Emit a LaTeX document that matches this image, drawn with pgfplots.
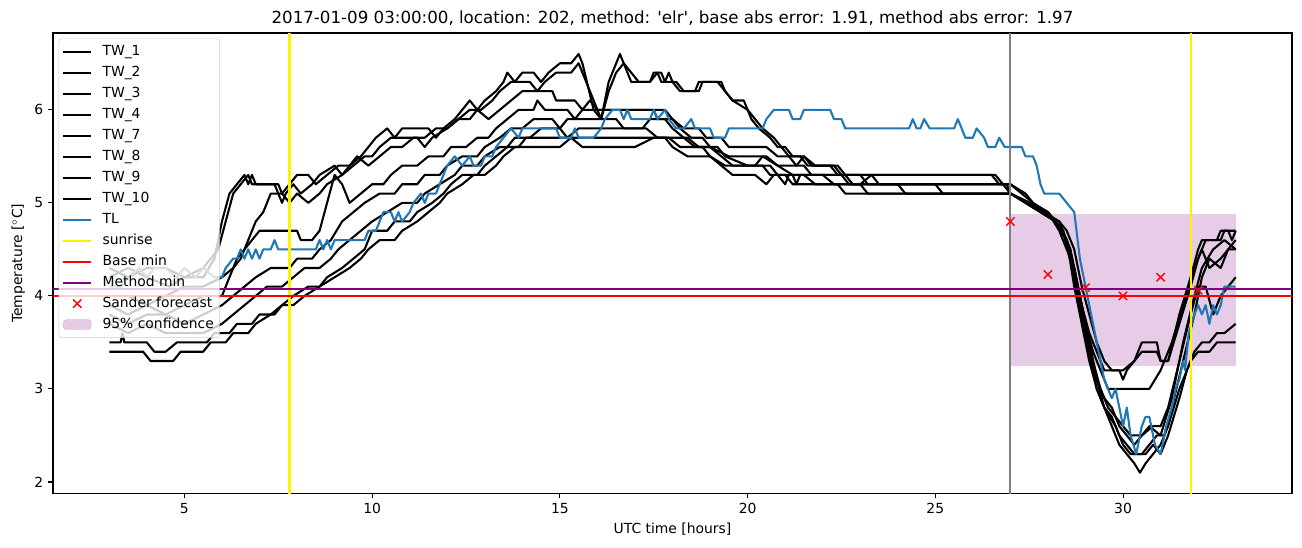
\documentclass[border=0pt]{standalone}
\usepackage{pgfplots}
\pgfplotsset{compat=1.18}
\usepackage{fontspec}
\setmainfont{DejaVu Sans}
\definecolor{mplblue}{RGB}{31,119,180}
\definecolor{mplpurple}{RGB}{128,0,128}
\definecolor{mplgray}{RGB}{128,128,128}
\definecolor{legframe}{RGB}{204,204,204}
\begin{document}
\begin{tikzpicture}
\path[use as bounding box] (-38.16bp,-38.5bp) rectangle (899.3bp,355.4bp);
\begin{axis}[
  at={(0,0)}, anchor=south west,
  scale only axis, width=892.1bp, height=331.6bp,
  xmin=1.5, xmax=34.5, ymin=1.875, ymax=6.825,
  xtick={5,10,15,20,25,30}, ytick={2,3,4,5,6},
  tick pos=left, tick align=outside,
  major tick length=3.5bp,
  every tick/.style={black, line width=0.8bp},
  axis line style={line width=0.8bp},
  /pgf/number format/assume math mode=true,
  ticklabel style={font=\fontsize{10bp}{12bp}\selectfont},
  label style={font=\fontsize{10bp}{12bp}\selectfont},
  xlabel={UTC time [hours]},
  ylabel={Temperature [$^\circ$C]},
  title={2017-01-09 03:00:00, location: 202, method: \textquotesingle elr\textquotesingle, base abs error: 1.91, method abs error: 1.97},
  title style={font=\fontsize{12bp}{14bp}\selectfont, at={(0.5,1)}, anchor=south, yshift=-4bp},
  legend cell align=left,
  legend style={at={(0,1)}, anchor=north west, xshift=4bp, yshift=-4bp,
    draw=legframe, rounded corners=2bp, fill=white, fill opacity=0.8, text opacity=1, draw opacity=1,
    font=\fontsize{10bp}{12bp}\selectfont, row sep=2.3bp, column sep=6bp, inner xsep=2.5bp, inner ysep=3bp,
    nodes={inner sep=1.5bp, text height=7.6bp, text depth=2.2bp}},
  legend image code/.code={\draw[line width=1.5bp,#1] (0bp,0bp) -- (20bp,0bp);},
  tw/.style={black, line width=1.5bp, line join=round, forget plot},
]
% confidence box
\addplot[fill=mplpurple, fill opacity=0.2, draw=none, forget plot] coordinates {(27,3.25) (33,3.25) (33,4.88) (27,4.88)};
% TW_1
\addplot[tw] coordinates {(3.0,4.3) (3.5,4.2) (4.0,4.3) (4.5,4.3) (5.0,4.2) (5.5,4.2) (5.8,4.4) (6.0,4.8) (6.2,5.1) (6.4,5.2) (6.6,5.3) (6.7,5.2) (6.8,5.3) (6.9,5.2) (7.4,5.2) (7.6,5.0) (7.7,5.1) (7.9,5.2) (8.1,5.1) (8.4,5.2) (8.6,5.3) (9.0,5.4) (9.2,5.3) (9.4,5.4) (9.7,5.5) (9.9,5.6) (10.1,5.7) (10.4,5.8) (10.6,5.7) (10.8,5.8) (11.5,5.8) (11.7,5.7) (11.9,5.8) (12.2,5.9) (12.4,6.0) (12.6,6.1) (12.8,6.0) (13.0,6.1) (13.3,6.2) (13.5,6.3) (13.6,6.4) (13.8,6.3) (14.0,6.4) (14.3,6.4) (14.5,6.3) (14.7,6.4) (15.0,6.5) (15.3,6.5) (15.5,6.6) (15.6,6.5) (15.9,6.0) (16.1,5.9) (16.3,6.3) (16.5,6.5) (16.6,6.6) (16.7,6.5) (16.9,6.3) (17.4,6.3) (17.5,6.4) (17.7,6.4) (17.8,6.3) (17.9,6.4) (18.0,6.3) (18.2,6.2) (18.6,6.2) (18.7,6.3) (19.3,6.3) (19.4,6.2) (19.6,6.1) (19.9,6.1) (20.1,5.9) (20.3,5.8) (20.6,5.7) (20.8,5.6) (21.0,5.6) (21.2,5.5) (21.5,5.5) (21.7,5.4) (22.4,5.4) (22.6,5.3) (26.6,5.3) (26.8,5.2) (27.0,5.1) (27.4,5.0) (27.8,4.9) (28.2,4.8) (28.5,4.6) (28.7,4.3) (28.9,3.9) (29.1,3.6) (29.3,3.4) (29.5,3.2) (29.9,3.2) (30.0,3.1) (30.1,3.2) (30.3,3.3) (30.5,3.5) (30.9,3.5) (31.0,3.3) (31.2,3.3) (31.5,3.8) (31.8,4.2) (32.0,4.5) (32.1,4.6) (32.5,4.6) (32.6,4.7) (32.8,4.7) (32.9,4.6) (33.0,4.7)};
% TW_2
\addplot[tw] coordinates {(3.0,4.2) (3.5,4.3) (4.0,4.2) (4.6,4.1) (5.0,4.2) (5.5,4.3) (5.9,4.5) (6.1,4.8) (6.3,5.1) (6.5,5.2) (6.7,5.3) (6.8,5.2) (7.5,5.2) (7.6,5.1) (7.8,5.0) (8.0,5.1) (8.3,5.0) (8.6,5.1) (8.8,5.2) (9.2,5.3) (9.5,5.4) (9.8,5.5) (10.0,5.5) (10.2,5.6) (10.5,5.7) (11.2,5.7) (11.4,5.6) (11.6,5.7) (12.0,5.8) (12.3,5.9) (12.6,6.0) (12.9,6.0) (13.2,6.1) (13.4,6.2) (13.7,6.3) (14.2,6.3) (14.4,6.2) (14.6,6.3) (14.9,6.4) (15.3,6.4) (15.5,6.5) (15.7,6.3) (15.9,6.1) (16.1,5.9) (16.3,6.2) (16.5,6.4) (16.7,6.5) (16.9,6.4) (17.1,6.3) (17.4,6.3) (17.6,6.4) (17.7,6.3) (18.1,6.3) (18.3,6.2) (18.7,6.2) (18.8,6.3) (19.2,6.3) (19.4,6.2) (19.6,6.1) (20.0,6.0) (20.2,5.9) (20.4,5.8) (20.7,5.7) (20.9,5.6) (21.1,5.5) (21.3,5.4) (21.5,5.5) (21.8,5.4) (22.3,5.4) (22.5,5.3) (23.0,5.3) (23.2,5.2) (26.9,5.2) (27.0,5.1) (27.5,5.0) (27.9,4.9) (28.3,4.8) (28.5,4.7) (28.7,4.5) (28.9,4.1) (29.1,3.8) (29.3,3.5) (29.5,3.3) (29.7,3.2) (30.0,3.2) (30.3,3.3) (30.5,3.4) (30.9,3.4) (31.0,3.3) (31.2,3.3) (31.5,3.7) (31.8,4.1) (32.0,4.4) (32.2,4.6) (32.6,4.6) (32.7,4.7) (33.0,4.7)};
% TW_3
\addplot[tw] coordinates {(3.0,4.0) (3.5,4.0) (4.0,3.9) (4.5,4.0) (5.0,4.1) (5.5,4.1) (6.0,4.2) (6.3,4.3) (6.5,4.4) (6.7,4.6) (6.9,4.8) (7.1,4.9) (7.3,5.1) (7.6,5.1) (7.8,5.2) (8.0,5.3) (8.3,5.3) (8.5,5.2) (8.8,5.3) (9.1,5.4) (9.4,5.4) (9.6,5.5) (9.9,5.4) (10.2,5.5) (10.5,5.6) (10.8,5.6) (11.1,5.7) (11.4,5.7) (11.7,5.8) (12.0,5.8) (12.3,5.9) (12.6,5.9) (12.8,6.0) (13.1,5.9) (13.4,6.0) (13.7,6.1) (14.0,6.2) (14.8,6.2) (14.9,6.1) (15.4,6.1) (15.6,6.0) (15.8,6.1) (16.0,6.0) (17.8,6.0) (18.0,5.9) (18.3,5.8) (18.7,5.8) (18.9,5.7) (19.3,5.7) (19.5,5.6) (20.5,5.6) (20.8,5.5) (21.4,5.5) (21.6,5.4) (22.2,5.4) (22.4,5.3) (26.5,5.3) (26.7,5.2) (27.0,5.2) (27.3,5.1) (27.6,5.0) (28.0,4.9) (28.3,4.7) (28.6,4.4) (28.8,4.0) (29.0,3.7) (29.2,3.4) (29.4,3.2) (29.6,3.0) (30.7,3.0) (31.0,3.2) (31.3,3.5) (31.6,3.9) (31.9,4.3) (32.1,4.5) (32.3,4.3) (32.6,4.4) (32.8,4.5) (33.0,4.5)};
% TW_4
\addplot[tw] coordinates {(3.0,3.9) (3.5,3.8) (4.0,3.9) (4.5,3.8) (5.0,3.9) (5.5,4.0) (6.0,4.0) (6.2,4.2) (6.4,4.4) (6.6,4.5) (6.8,4.6) (7.0,4.7) (8.0,4.7) (8.1,4.6) (8.4,4.6) (8.6,4.7) (8.8,5.0) (9.0,5.3) (9.2,5.2) (9.4,5.0) (9.7,5.1) (10.0,5.2) (10.3,5.2) (10.5,5.3) (10.8,5.4) (11.2,5.4) (11.5,5.5) (11.9,5.5) (12.1,5.6) (12.5,5.6) (12.8,5.7) (13.1,5.7) (13.3,5.8) (13.6,5.9) (13.9,6.0) (14.3,6.0) (14.4,6.1) (14.6,6.0) (15.2,6.0) (15.4,5.9) (15.6,6.0) (17.5,6.0) (17.6,5.9) (18.0,5.9) (18.2,5.8) (18.5,5.7) (18.8,5.7) (19.0,5.6) (19.5,5.5) (20.5,5.5) (20.8,5.4) (21.2,5.3) (21.3,5.2) (21.4,5.3) (22.0,5.3) (22.3,5.2) (23.0,5.2) (23.3,5.3) (23.5,5.2) (26.8,5.2) (27.0,5.2) (27.4,5.1) (27.8,4.9) (28.3,4.8) (28.6,4.5) (28.8,4.1) (29.0,3.7) (29.2,3.3) (29.4,3.0) (29.6,2.8) (29.8,2.7) (30.0,2.6) (30.2,2.5) (30.5,2.5) (30.7,2.6) (31.0,2.5) (31.3,2.9) (31.6,3.5) (31.9,4.0) (32.1,4.3) (32.4,4.5) (32.7,4.6) (33.0,4.5)};
% TW_7
\addplot[tw] coordinates {(3.0,3.8) (3.5,3.7) (4.0,3.8) (4.5,3.8) (5.0,3.7) (5.5,3.8) (6.0,3.9) (6.3,4.0) (6.6,4.1) (6.9,4.2) (7.3,4.3) (7.8,4.3) (8.0,4.4) (8.4,4.4) (8.6,4.5) (8.9,4.6) (9.2,4.8) (9.5,4.9) (9.8,5.0) (10.2,5.1) (10.6,5.1) (10.8,5.2) (11.2,5.2) (11.4,5.3) (11.8,5.3) (12.0,5.4) (12.4,5.5) (12.8,5.5) (13.0,5.6) (13.4,5.7) (13.7,5.8) (14.0,5.8) (14.3,5.9) (14.8,5.9) (15.0,5.8) (15.2,5.9) (16.5,5.9) (16.7,5.8) (17.2,5.8) (17.4,5.9) (17.8,5.9) (18.0,5.8) (18.3,5.7) (18.6,5.6) (19.0,5.6) (19.3,5.5) (19.6,5.4) (20.2,5.4) (20.4,5.5) (20.8,5.4) (21.5,5.4) (21.7,5.3) (22.6,5.3) (22.8,5.2) (25.0,5.2) (25.2,5.1) (27.0,5.1) (27.5,5.0) (28.0,4.9) (28.4,4.7) (28.7,4.2) (28.9,3.8) (29.1,3.4) (29.3,3.1) (29.5,2.9) (29.7,2.8) (29.9,2.6) (30.1,2.5) (30.3,2.4) (30.5,2.5) (30.8,2.6) (31.0,2.6) (31.2,2.8) (31.5,3.3) (31.8,3.8) (32.0,4.1) (32.2,4.1) (32.4,3.8) (32.6,4.0) (32.8,4.1) (33.0,4.2)};
% TW_8
\addplot[tw] coordinates {(3.0,3.7) (3.5,3.6) (4.0,3.7) (4.5,3.6) (5.5,3.6) (6.0,3.7) (6.3,3.8) (6.6,3.9) (6.9,4.0) (7.2,4.1) (7.6,4.1) (7.9,4.2) (8.2,4.3) (8.6,4.3) (8.9,4.4) (9.1,4.5) (9.4,4.6) (9.7,4.7) (10.0,4.8) (10.4,4.9) (10.8,5.0) (11.2,5.0) (11.4,5.1) (11.8,5.2) (12.2,5.3) (12.4,5.4) (12.8,5.4) (13.0,5.5) (13.4,5.6) (13.6,5.6) (13.8,5.7) (14.2,5.7) (14.5,5.8) (15.0,5.8) (15.2,5.7) (15.5,5.8) (17.3,5.8) (17.6,5.7) (18.4,5.7) (18.7,5.6) (19.2,5.6) (19.4,5.5) (20.0,5.4) (20.6,5.4) (20.8,5.3) (21.0,5.2) (21.1,5.3) (22.5,5.3) (22.7,5.2) (23.0,5.2) (23.2,5.1) (27.0,5.1) (27.5,5.0) (28.0,4.9) (28.4,4.7) (28.7,4.3) (28.9,3.9) (29.1,3.5) (29.3,3.1) (29.5,2.8) (29.8,2.6) (30.0,2.4) (30.2,2.3) (30.5,2.3) (30.7,2.4) (30.9,2.5) (31.1,2.5) (31.3,2.8) (31.6,3.3) (31.9,3.8) (32.1,4.2) (32.3,4.4) (32.6,4.3) (32.8,4.5) (33.0,4.6)};
% TW_9
\addplot[tw] coordinates {(3.0,3.5) (3.3,3.5) (3.35,3.6) (3.4,3.5) (4.0,3.5) (4.2,3.4) (4.5,3.4) (4.8,3.5) (5.6,3.5) (5.8,3.6) (6.2,3.6) (6.4,3.7) (6.8,3.7) (7.0,3.8) (7.4,3.8) (7.6,3.9) (7.9,4.0) (8.3,4.1) (8.6,4.1) (8.8,4.2) (9.2,4.3) (9.5,4.4) (9.8,4.5) (10.0,4.7) (10.4,4.7) (10.6,4.8) (11.0,4.8) (11.2,4.9) (11.6,5.0) (11.9,5.1) (12.1,5.2) (12.4,5.3) (12.8,5.3) (13.0,5.4) (13.3,5.5) (13.6,5.6) (13.9,5.6) (14.1,5.7) (17.9,5.7) (18.2,5.6) (18.8,5.6) (19.0,5.5) (19.4,5.4) (20.4,5.4) (20.6,5.3) (21.5,5.3) (21.8,5.2) (24.0,5.2) (24.2,5.1) (27.0,5.1) (27.5,5.0) (28.0,4.9) (28.5,4.6) (28.7,4.2) (28.9,3.8) (29.1,3.4) (29.3,3.0) (29.5,2.8) (29.7,2.7) (29.9,2.5) (30.1,2.4) (30.3,2.3) (30.6,2.3) (30.8,2.4) (31.0,2.3) (31.2,2.5) (31.5,2.9) (31.7,3.2) (31.9,3.4) (32.1,3.5) (32.3,3.5) (32.5,3.6) (32.7,3.6) (33.0,3.7)};
% TW_10
\addplot[tw] coordinates {(3.0,3.4) (3.9,3.4) (4.1,3.3) (4.7,3.3) (4.9,3.4) (5.5,3.4) (5.7,3.5) (6.1,3.5) (6.3,3.6) (6.7,3.6) (6.9,3.7) (7.3,3.8) (7.6,3.9) (7.9,3.9) (8.2,4.0) (8.6,4.1) (9.0,4.2) (9.4,4.3) (9.7,4.4) (9.9,4.5) (10.2,4.6) (10.6,4.6) (10.8,4.7) (11.2,4.8) (11.5,4.9) (11.8,5.0) (12.0,5.1) (12.4,5.2) (12.7,5.3) (13.0,5.3) (13.3,5.4) (13.5,5.5) (13.8,5.6) (15.0,5.6) (15.3,5.7) (15.6,5.6) (17.0,5.6) (17.5,5.7) (17.8,5.7) (18.0,5.6) (18.4,5.5) (19.0,5.5) (19.3,5.4) (19.6,5.3) (20.2,5.3) (20.5,5.2) (20.7,5.3) (21.0,5.3) (21.2,5.2) (22.4,5.2) (22.6,5.1) (27.0,5.1) (27.4,5.0) (27.8,4.9) (28.2,4.8) (28.5,4.6) (28.7,4.1) (28.9,3.7) (29.1,3.3) (29.3,3.0) (29.5,2.8) (29.7,2.6) (29.9,2.4) (30.1,2.3) (30.3,2.2) (30.45,2.1) (30.6,2.2) (30.8,2.3) (31.0,2.4) (31.2,2.6) (31.5,3.0) (31.8,3.3) (32.0,3.4) (32.3,3.4) (32.5,3.5) (33.0,3.5)};
% TL
\addplot[mplblue, line width=1.5bp, line join=round, forget plot] coordinates {(3.0,4.1) (3.3,4.1) (3.5,4.2) (3.8,4.3) (4.0,4.2) (4.2,4.3) (4.5,4.3) (4.8,4.2) (5.0,4.3) (5.3,4.2) (5.5,4.3) (5.8,4.2) (6.0,4.2) (6.1,4.3) (6.3,4.4) (6.4,4.4) (6.5,4.5) (6.6,4.4) (6.7,4.5) (6.8,4.4) (6.9,4.5) (7.0,4.4) (7.1,4.5) (7.3,4.5) (7.4,4.6) (7.5,4.5) (8.5,4.5) (8.6,4.6) (8.7,4.5) (8.8,4.6) (8.9,4.5) (9.0,4.6) (9.8,4.6) (9.9,4.7) (10.1,4.7) (10.2,4.8) (10.3,4.9) (10.5,4.9) (10.6,4.8) (10.7,4.9) (10.8,4.8) (11.0,4.9) (11.1,5.0) (11.3,5.1) (11.4,5.0) (11.5,5.1) (11.7,5.1) (11.8,5.2) (11.9,5.3) (12.0,5.4) (12.2,5.5) (12.4,5.4) (12.6,5.5) (12.7,5.4) (12.9,5.4) (13.0,5.5) (13.2,5.5) (13.3,5.6) (13.5,5.7) (13.7,5.8) (13.9,5.7) (14.0,5.8) (14.9,5.8) (15.0,5.7) (15.3,5.7) (15.4,5.8) (15.5,5.7) (15.9,5.7) (16.1,5.8) (16.2,5.9) (16.4,6.0) (16.6,6.0) (16.7,5.9) (16.8,6.0) (16.9,5.9) (17.4,5.9) (17.5,6.0) (17.6,5.9) (17.8,6.0) (17.9,5.9) (18.1,5.8) (18.3,5.8) (18.5,5.9) (18.6,5.8) (19.0,5.8) (19.1,5.7) (19.4,5.7) (19.5,5.8) (20.4,5.8) (20.5,5.9) (20.7,6.0) (21.1,6.0) (21.2,5.9) (21.4,5.9) (21.5,6.0) (22.2,6.0) (22.3,5.9) (22.5,5.9) (22.6,5.8) (24.3,5.8) (24.4,5.9) (24.5,5.8) (24.6,5.8) (24.7,5.9) (24.85,5.8) (25.5,5.8) (25.6,5.9) (25.7,5.8) (25.8,5.7) (26.0,5.7) (26.1,5.8) (26.3,5.7) (26.4,5.6) (26.6,5.6) (26.7,5.7) (26.85,5.6) (27.3,5.6) (27.4,5.5) (27.6,5.5) (27.7,5.4) (27.8,5.2) (27.9,5.1) (28.3,5.1) (28.5,5.0) (28.7,4.9) (28.85,4.4) (29.1,3.9) (29.4,3.3) (29.5,3.1) (29.7,2.9) (29.8,3.0) (29.9,2.8) (30.0,2.6) (30.1,2.8) (30.2,2.5) (30.35,2.3) (30.5,2.6) (30.6,2.7) (30.7,2.7) (30.85,2.4) (31.0,2.3) (31.15,2.6) (31.3,2.8) (31.4,3.0) (31.5,3.1) (31.6,3.3) (31.65,3.2) (31.75,3.6) (31.9,3.8) (32.0,3.9) (32.1,3.8) (32.2,3.9) (32.3,3.7) (32.4,3.9) (32.5,3.8) (32.6,3.9) (32.7,4.1) (32.85,4.1) (33.0,4.1)};
% vertical lines
\addplot[yellow, line width=1.5bp, forget plot] coordinates {(7.8,1.875) (7.8,6.825)};
\addplot[yellow, line width=1.5bp, forget plot] coordinates {(31.8,1.875) (31.8,6.825)};
\addplot[mplgray, line width=1.5bp, forget plot] coordinates {(27,1.875) (27,6.825)};
% horizontal lines
\addplot[red, line width=1.5bp, forget plot] coordinates {(1.5,4.0) (34.5,4.0)};
\addplot[mplpurple, line width=1.5bp, forget plot] coordinates {(1.5,4.075) (34.5,4.075)};
% Sander forecast
\addplot[only marks, mark=x, red, mark size=4.2bp, line width=1bp, forget plot] coordinates {(27,4.8) (28,4.23) (29,4.09) (30,4.0) (31,4.2) (32,4.06)};
% legend
\addlegendimage{black}\addlegendentry{TW\_1}
\addlegendimage{black}\addlegendentry{TW\_2}
\addlegendimage{black}\addlegendentry{TW\_3}
\addlegendimage{black}\addlegendentry{TW\_4}
\addlegendimage{black}\addlegendentry{TW\_7}
\addlegendimage{black}\addlegendentry{TW\_8}
\addlegendimage{black}\addlegendentry{TW\_9}
\addlegendimage{black}\addlegendentry{TW\_10}
\addlegendimage{mplblue}\addlegendentry{TL}
\addlegendimage{yellow}\addlegendentry{sunrise}
\addlegendimage{red}\addlegendentry{Base min}
\addlegendimage{mplpurple}\addlegendentry{Method min}
\addlegendimage{legend image code/.code={\draw[red, line width=1bp] (7bp,-3bp) -- (13bp,3bp) (7bp,3bp) -- (13bp,-3bp);}}\addlegendentry{Sander forecast}
\addlegendimage{legend image code/.code={\fill[mplpurple, opacity=0.2] (0bp,-3.5bp) rectangle (20bp,3.5bp);}}\addlegendentry{95\% confidence}
\end{axis}
\end{tikzpicture}
\end{document}
